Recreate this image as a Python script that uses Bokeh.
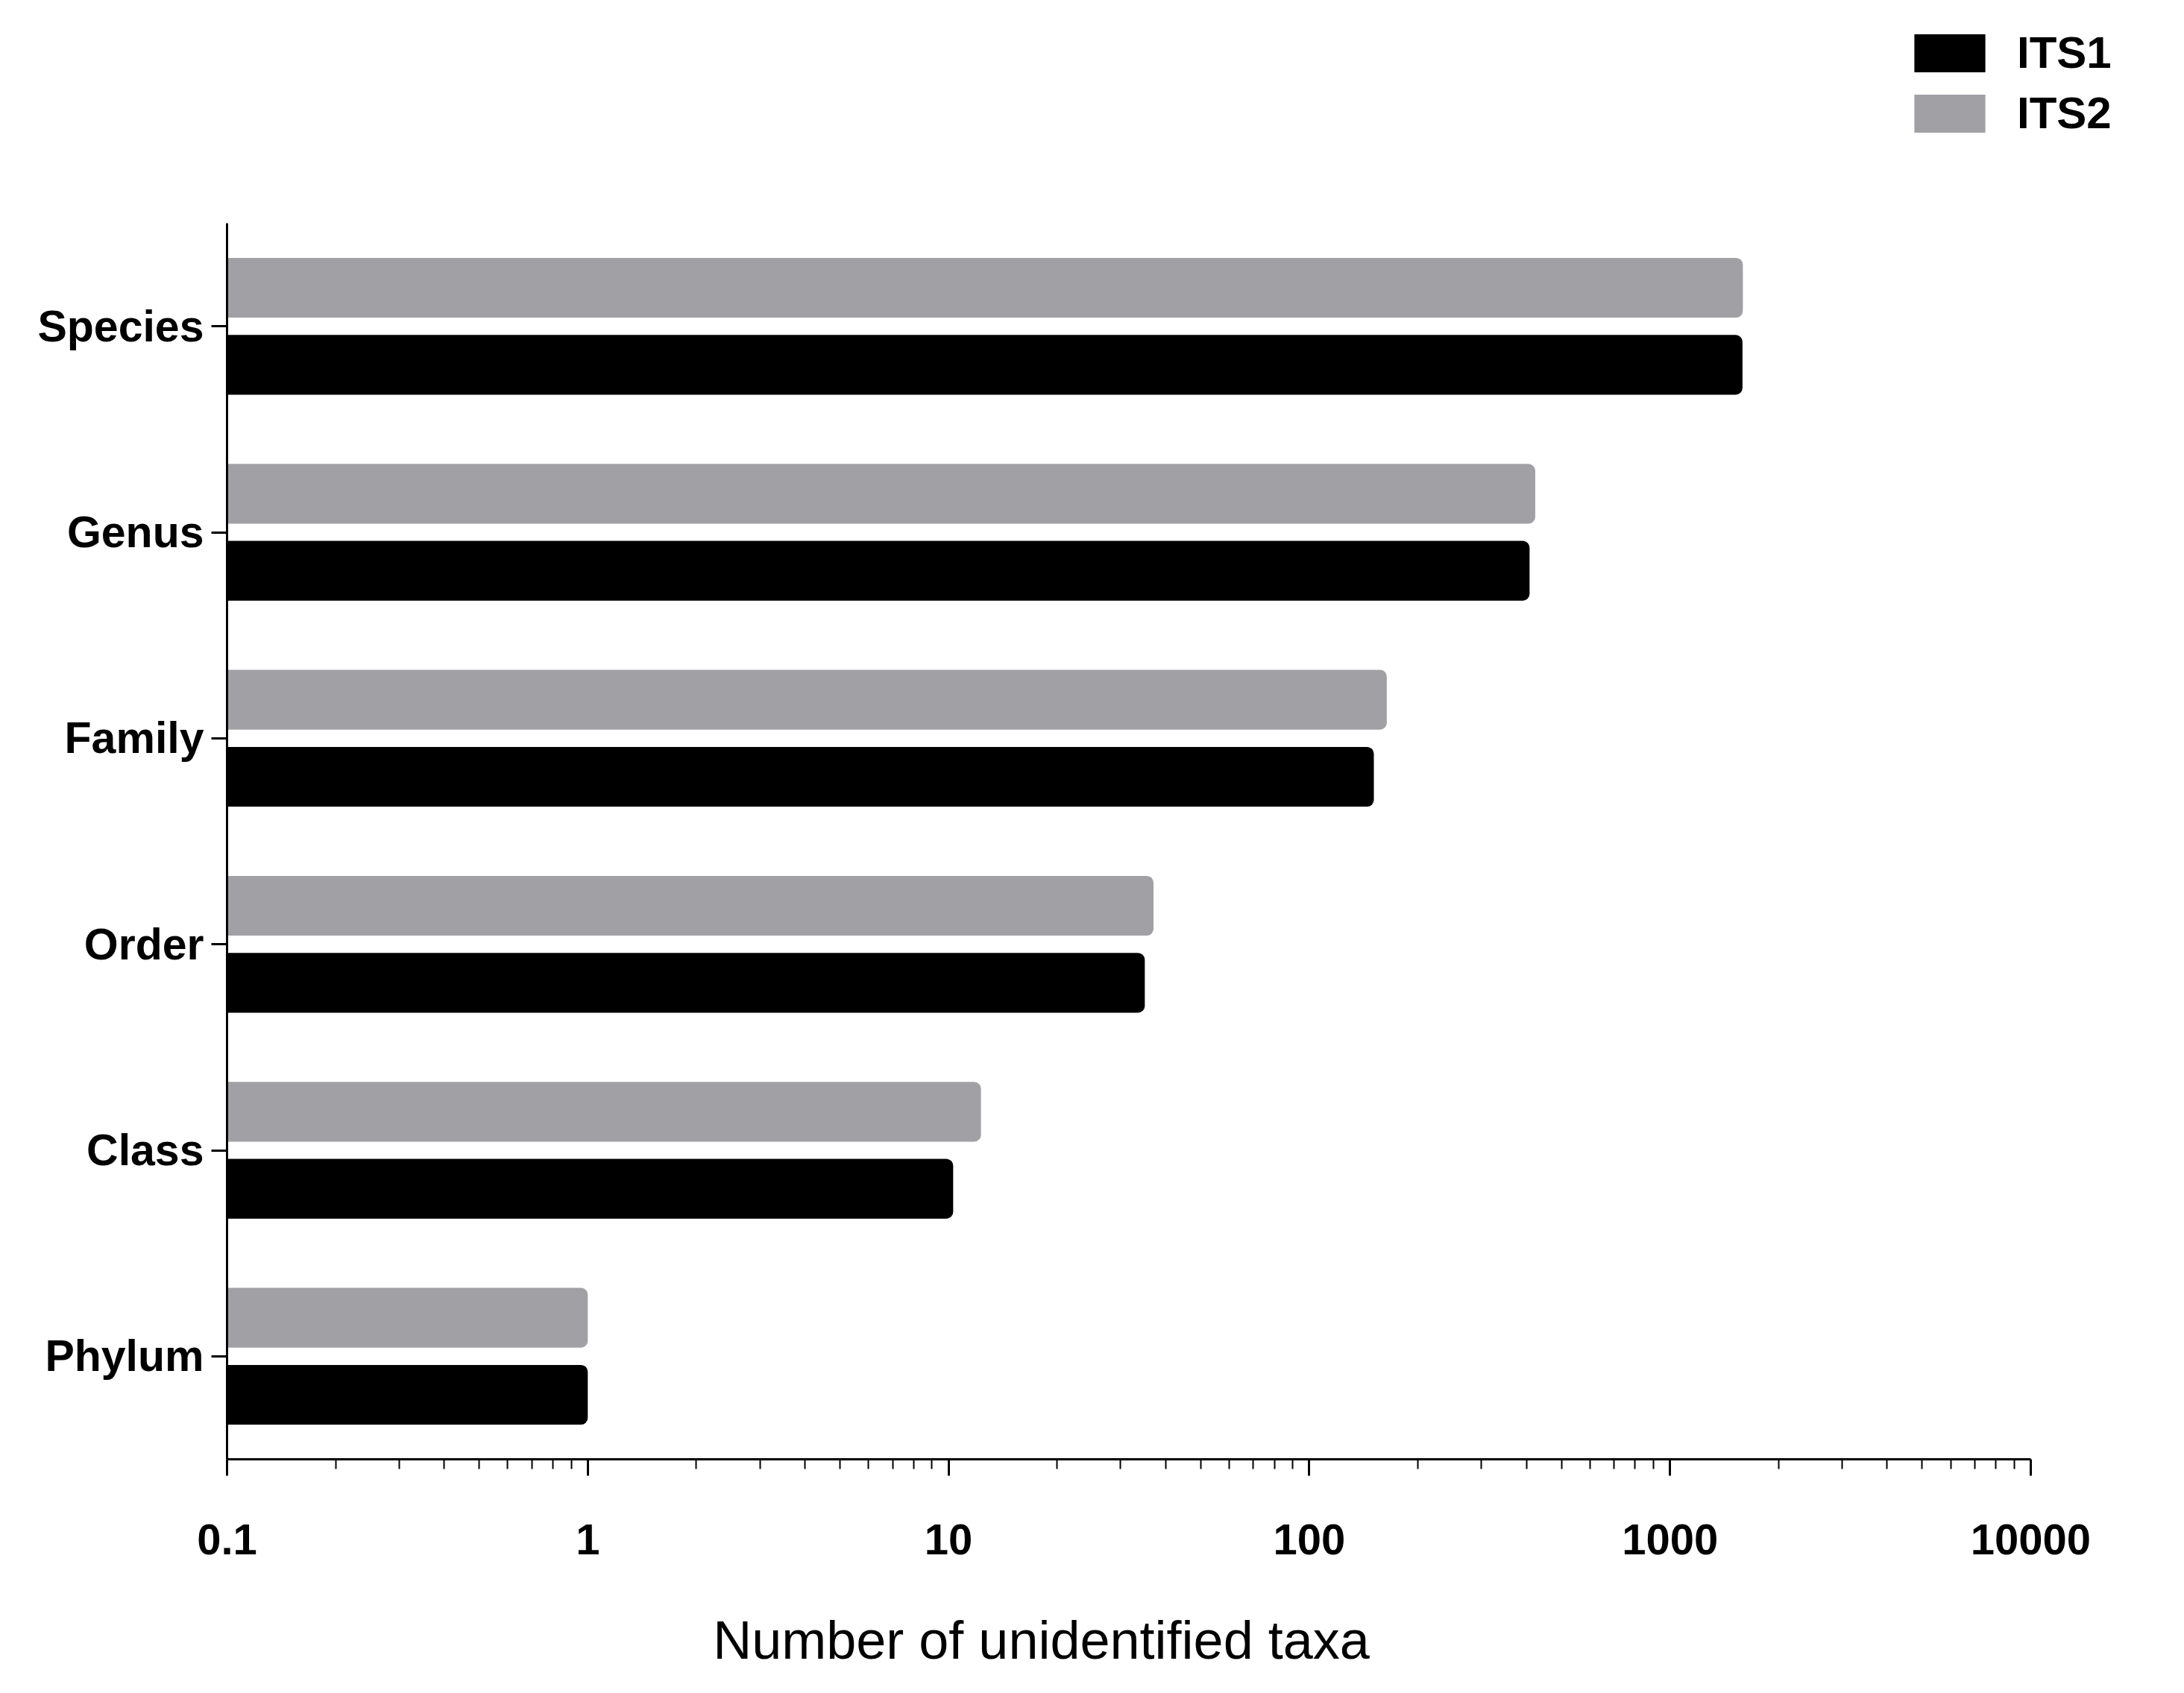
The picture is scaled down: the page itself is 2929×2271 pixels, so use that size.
from bokeh.plotting import figure
from bokeh.models import (ColumnDataSource, FactorRange, Range1d, FixedTicker, Legend,
                          LegendItem, Label, Spacer)
from bokeh.layouts import column, row
from bokeh.transform import dodge
from bokeh.embed import file_html
from bokeh.resources import INLINE

# ---- data ----
categories = ["Species", "Genus", "Family", "Order", "Class", "Phylum"]
its1 = [1588, 408, 151, 35, 10.3, 1]
its2 = [1592, 423, 164, 37, 12.3, 1]
series_names = ["ITS1", "ITS2"]
tick_values = [0.1, 1, 10, 100, 1000, 10000]
tick_labels = ["0.1", "1", "10", "100", "1000", "10000"]
minor_values = [m * 10.0 ** e for e in range(-1, 4) for m in range(2, 10)]
x_title = "Number of unidentified taxa"

FONT = "Liberation Sans"
GRAY = "#a1a0a5"
W = 2913
TOTAL_H = 2255
TOP_H = 299
MAIN_H = 1818
BOT_H = TOTAL_H - TOP_H - MAIN_H
LEG_X = 2555
BL, BR = 304, 190

# ---- legend strip (small figure at the top right) ----
leg = figure(width=W - LEG_X, height=TOP_H, output_backend="svg", toolbar_location=None,
             x_axis_location=None, y_axis_location=None,
             x_range=Range1d(0, 1), y_range=Range1d(0, 1),
             min_border_left=0, min_border_right=0, min_border_top=36,
             min_border_bottom=0)
leg.outline_line_color = None
leg.grid.visible = False
nan = float("nan")
dummy = ColumnDataSource(dict(y=[nan], left=[nan], right=[nan]))
d1 = leg.hbar(y="y", left="left", right="right", height=0.1, source=dummy,
              fill_color="black", line_color=None)
d2 = leg.hbar(y="y", left="left", right="right", height=0.1, source=dummy,
              fill_color=GRAY, line_color=None)
legend = Legend(items=[LegendItem(label=series_names[0], renderers=[d1]),
                       LegendItem(label=series_names[1], renderers=[d2])],
                location="top_left", orientation="vertical",
                glyph_width=119, glyph_height=64, label_height=51, spacing=12,
                label_standoff=31,
                label_text_font=FONT, label_text_font_style="bold",
                label_text_font_size="60px", label_text_color="black",
                padding=0, margin=0,
                border_line_alpha=0, background_fill_alpha=0)
leg.add_layout(legend, "center")

# ---- main chart ----
src = ColumnDataSource(dict(cat=categories, its1=its1, its2=its2,
                            base=[tick_values[0]] * len(categories)))

p = figure(width=W, height=MAIN_H, output_backend="svg", toolbar_location=None,
           x_axis_type="log",
           x_range=Range1d(tick_values[0], tick_values[-1]),
           y_range=FactorRange(factors=categories[::-1]),
           min_border_left=BL, min_border_right=BR, min_border_top=0,
           min_border_bottom=160)
p.outline_line_color = None
p.grid.visible = False
p.background_fill_color = "white"
p.border_fill_color = "white"

r2 = p.hbar(y=dodge("cat", 0.187, range=p.y_range), left="base", right="its2",
            height=0.29, source=src, fill_color=GRAY, line_color=None,
            border_radius=(0, 9, 9, 0))
r1 = p.hbar(y=dodge("cat", -0.187, range=p.y_range), left="base", right="its1",
            height=0.29, source=src, fill_color="black", line_color=None,
            border_radius=(0, 9, 9, 0))

# x axis
xa = p.xaxis[0]
xa.ticker = FixedTicker(ticks=tick_values, minor_ticks=minor_values)
xa.major_label_overrides = dict(zip(tick_values, tick_labels))
xa.axis_line_width = 3
xa.axis_line_color = "black"
xa.major_tick_line_width = 3
xa.major_tick_out = 22
xa.major_tick_in = 0
xa.minor_tick_line_width = 2
xa.minor_tick_out = 13
xa.minor_tick_in = 0
xa.major_label_text_font = FONT
xa.major_label_text_font_style = "bold"
xa.major_label_text_font_size = "58px"
xa.major_label_text_color = "black"
xa.major_label_standoff = 65

# y axis
ya = p.yaxis[0]
ya.axis_line_width = 3
ya.axis_line_color = "black"
ya.major_tick_line_width = 3
ya.major_tick_out = 21
ya.major_tick_in = 0
ya.minor_tick_out = 0
ya.major_label_text_font = FONT
ya.major_label_text_font_style = "bold"
ya.major_label_text_font_size = "59px"
ya.major_label_text_color = "black"
ya.major_label_standoff = 10

# ---- x-axis title strip ----
bot = figure(width=W, height=BOT_H, output_backend="svg", toolbar_location=None,
             x_axis_location=None, y_axis_location=None,
             x_range=Range1d(0, 1), y_range=Range1d(0, 1),
             min_border_left=BL, min_border_right=BR, min_border_top=0,
             min_border_bottom=0)
bot.outline_line_color = None
bot.grid.visible = False
bot.add_layout(Label(x=1092, y=56, x_units="screen", y_units="screen", text=x_title,
                     text_font=FONT, text_font_size="72px", text_align="center",
                     text_baseline="alphabetic", text_color="black"))

layout = column(row(Spacer(width=LEG_X, height=TOP_H), leg, spacing=0), p, bot,
                spacing=0)
open("out.html", "w").write(file_html(layout, INLINE))
